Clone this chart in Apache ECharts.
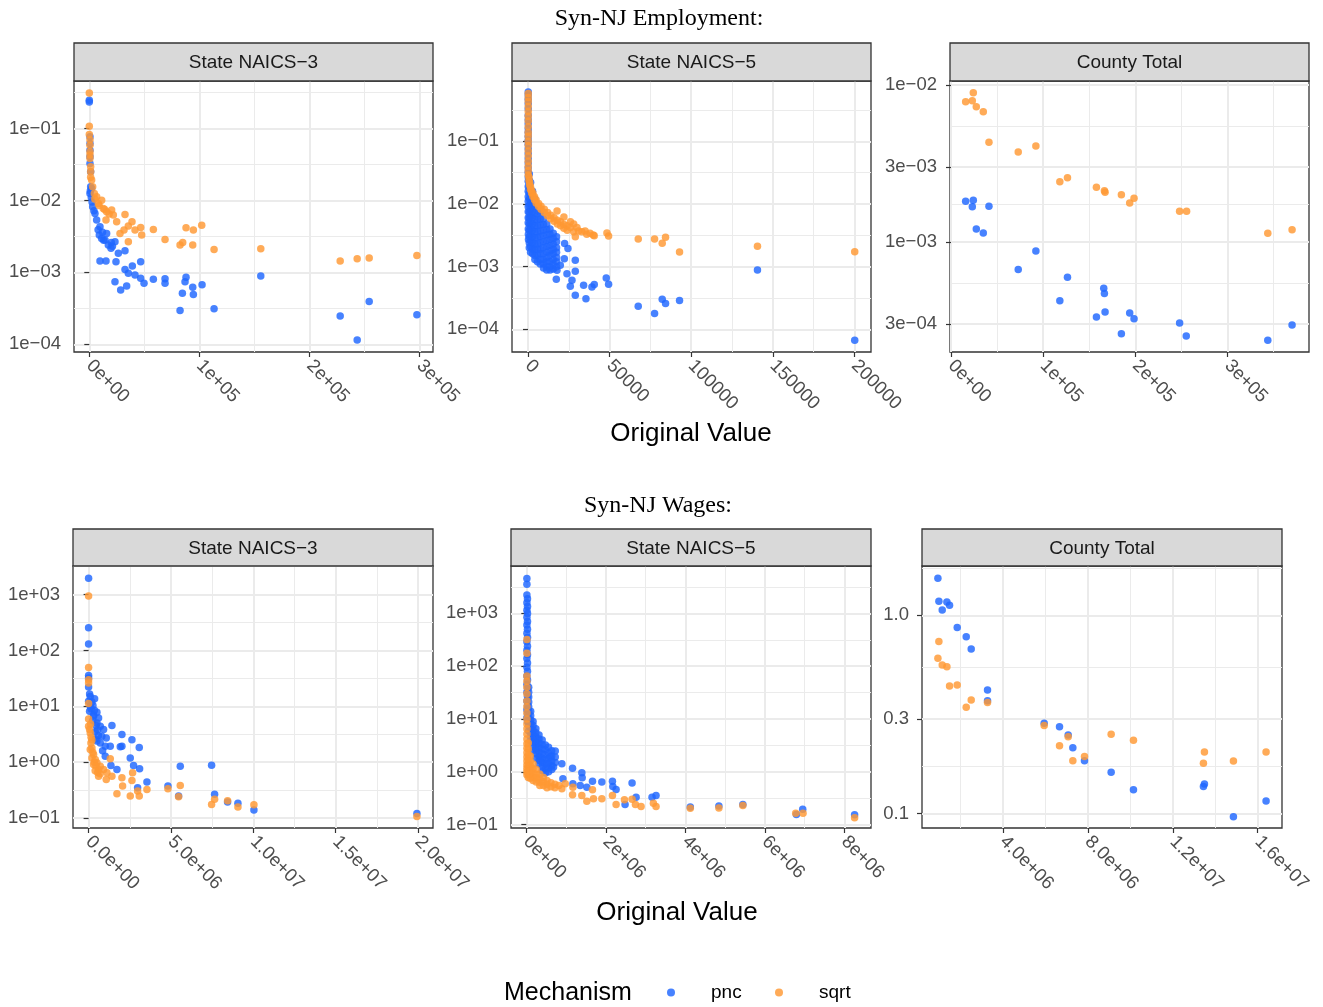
<!DOCTYPE html>
<html><head><meta charset="utf-8">
<script src="https://cdn.jsdelivr.net/npm/echarts@6/dist/echarts.min.js"></script>
<style>html,body{margin:0;padding:0;background:#fff}#c{width:1323px;height:1007px}</style>
</head><body><div id="c"></div><script>
// ---------- DATA ----------
const mechanisms = ['pnc', 'sqrt'];
const panelTitles = ['State NAICS\u22123', 'State NAICS\u22125', 'County Total', 'State NAICS\u22123', 'State NAICS\u22125', 'County Total'];

// Employment, State NAICS-3
const empN3Pnc = [[0,0.2474],[0,0.2344],[606,0.0766],[606,0.0619],[606,0.050],[606,0.0404],[606,0.0327],[1212,0.025],[1212,0.0155],[606,0.0125],[2121,0.0147],[900,0.0135],[1800,0.011],[2500,0.0095],[4200,0.0072],[3030,0.00817],[5152,0.00659],[6667,0.00533],[9697,0.0043],[9091,0.0033],[8000,0.0039],[12000,0.0036],[13000,0.0028],[11212,0.00297],[14242,0.00281],[15758,0.00348],[17273,0.0024],[19697,0.00216],[20000,0.0026],[21000,0.0023],[23333,0.00267],[26364,0.00184],[32424,0.002],[9697,0.00144],[15152,0.00144],[24242,0.00141],[32424,0.0011],[35455,0.00097],[39091,0.00123],[46667,0.00141],[23333,0.00074],[28485,0.000568],[33939,0.000645],[41515,0.000918],[46667,0.000826],[49697,0.000704],[58182,0.0008],[68788,0.000817],[68788,0.000704],[86970,0.000741],[87879,0.000853],[84545,0.000511],[93939,0.000619],[94545,0.000494],[102424,0.000675],[82424,0.000294],[113333,0.000313],[155758,0.00089],[227879,0.000248],[243333,0.000115],[254242,0.000395],[297576,0.000258]];
const empN3Sqrt = [[0,0.313],[0,0.1077],[0,0.0825],[606,0.07],[606,0.0587],[606,0.048],[606,0.0427],[606,0.0383],[1212,0.0294],[1212,0.025],[1212,0.021],[2121,0.0192],[3030,0.0155],[4545,0.0125],[5000,0.0105],[6667,0.01125],[8182,0.00908],[9000,0.0085],[11212,0.0101],[12727,0.00774],[14000,0.0075],[15758,0.00697],[18000,0.0065],[20303,0.00735],[21818,0.00626],[24848,0.00506],[15152,0.00533],[32424,0.0064],[27879,0.00348],[31515,0.00387],[35455,0.0044],[38788,0.00506],[41515,0.00387],[35455,0.00267],[46667,0.00422],[47576,0.0033],[58182,0.00395],[68788,0.00287],[82424,0.0024],[84848,0.00261],[87879,0.00417],[94545,0.00387],[93939,0.0024],[102121,0.00454],[113333,0.00208],[155758,0.00213],[227879,0.00144],[243333,0.00155],[254242,0.00158],[297576,0.00172]];

// Employment, State NAICS-5
const empN5Pnc = [[150,0.61],[150,0.55],[150,0.47],[150,0.4],[150,0.33],[150,0.26],[150,0.22],[150,0.19],[150,0.16],[150,0.14],[150,0.12],[150,0.104],[150,0.09],[150,0.076],[150,0.064],[150,0.053],[150,0.045],[150,0.038],[150,0.032],[150,0.027],[150,0.023],[150,0.019],[150,0.016],[150,0.013],[150,0.011],[150,0.009],[150,0.0075],[150,0.006],[150,0.005],[200,0.004],[250,0.0033],[300,0.0027],
[800,0.03],[800,0.024],[800,0.019],[800,0.015],[800,0.012],[800,0.0095],[800,0.0075],[800,0.006],[800,0.0048],[800,0.0038],[800,0.003],[800,0.0024],[800,0.002],
[1600,0.022],[1600,0.017],[1600,0.013],[1600,0.01],[1600,0.008],[1600,0.0063],[1600,0.005],[1600,0.004],[1600,0.0032],[1600,0.0026],[1600,0.0021],[1600,0.0017],
[2800,0.016],[2800,0.012],[2800,0.0095],[2800,0.0075],[2800,0.006],[2800,0.0048],[2800,0.0038],[2800,0.003],[2800,0.0024],[2800,0.0019],[2800,0.0016],
[4200,0.012],[4200,0.0092],[4200,0.0072],[4200,0.0057],[4200,0.0045],[4200,0.0036],[4200,0.0029],[4200,0.0023],[4200,0.0019],[4200,0.0015],[4200,0.0013],
[5800,0.009],[5800,0.007],[5800,0.0056],[5800,0.0045],[5800,0.0036],[5800,0.0029],[5800,0.0023],[5800,0.0019],[5800,0.0015],[5800,0.0012],
[7500,0.0072],[7500,0.0057],[7500,0.0046],[7500,0.0037],[7500,0.003],[7500,0.0024],[7500,0.0019],[7500,0.0016],[7500,0.0013],[7500,0.0011],
[9500,0.0058],[9500,0.0047],[9500,0.0038],[9500,0.0031],[9500,0.0025],[9500,0.002],[9500,0.0016],[9500,0.0013],[9500,0.0011],[9500,0.00095],
[11500,0.0048],[11500,0.0039],[11500,0.0032],[11500,0.0026],[11500,0.0021],[11500,0.0017],[11500,0.0014],[11500,0.0012],[11500,0.001],[11500,0.00088],
[13500,0.004],[13500,0.0033],[13500,0.0027],[13500,0.0022],[13500,0.0018],[13500,0.0015],[13500,0.0012],[13500,0.001],[13500,0.00088],
[15500,0.0034],[15500,0.0028],[15500,0.0023],[15500,0.0019],[15500,0.0016],[15500,0.0013],[15500,0.0011],[15500,0.00092],
[17500,0.003],[17500,0.0025],[17500,0.002],[17500,0.0017],[17500,0.0014],[17500,0.0012],[17500,0.001],
[22449,0.00233],[24490,0.00194],[28980,0.00126],[17755,0.000873],[19796,0.00105],[22245,0.00134],[23878,0.000773],[28980,0.000843],[26939,0.000605],[17347,0.000628],[25918,0.000485],[34082,0.000504],[39184,0.000474],[40612,0.000517],[28980,0.000349],[35510,0.000308],[47959,0.000659],[49388,0.000523],[67551,0.000233],[77551,0.000178],[82245,0.000301],[84286,0.000257],[92857,0.000287],[140612,0.000885],[200204,0.0000667]];
const empN5Sqrt = [[150,0.58],[150,0.5],[150,0.43],[150,0.36],[150,0.3],[150,0.25],[150,0.21],[150,0.17],[150,0.14],[150,0.12],[150,0.1],[150,0.085],[150,0.07],[150,0.058],[150,0.048],[150,0.04],[150,0.034],[150,0.029],
[600,0.027],[600,0.024],[1000,0.022],[1000,0.02],[1500,0.019],[1500,0.017],[2200,0.0165],[2200,0.015],[3000,0.0148],[3000,0.0132],[4000,0.013],[4000,0.0117],[5000,0.0116],[5000,0.0104],[6500,0.0102],[6500,0.0092],[8000,0.0092],[8000,0.0082],[10000,0.0082],[10000,0.0073],[12000,0.0073],[12000,0.0065],[14000,0.0066],[14000,0.0058],[16000,0.006],[16000,0.0053],[17800,0.0077],[18000,0.0055],[18000,0.0048],[20000,0.0052],[20000,0.0045],[22000,0.0062],[22000,0.0047],[22000,0.0041],[24000,0.0045],[24000,0.0038],[26000,0.0052],[26000,0.0042],[28000,0.0048],[28000,0.0036],[29000,0.003],[30000,0.0042],[31000,0.0037],[33000,0.0036],[35000,0.0037],[36000,0.0033],[38000,0.0034],[40000,0.0032],[40600,0.0031],
[48367,0.00344],[49388,0.00308],[67551,0.00276],[77551,0.00276],[82245,0.00236],[84286,0.00294],[92857,0.00171],[140612,0.00211],[200204,0.00173]];

// Employment, County Total
const empCtPnc = [[15884,0.001818],[24188,0.001845],[23105,0.001672],[41155,0.001689],[27437,0.00121],[35018,0.001141],[92058,0.000876],[72924,0.000666],[126354,0.000595],[118051,0.000422],[165704,0.000506],[166426,0.000468],[157762,0.000332],[167148,0.000357],[193863,0.000352],[198556,0.000323],[184838,0.00026],[248014,0.000304],[255235,0.000251],[343682,0.000236],[370036,0.000295]];
const empCtSqrt = [[15884,0.00783],[24188,0.00894],[23105,0.00794],[27437,0.00727],[35018,0.00676],[41155,0.00431],[72924,0.00374],[92058,0.00408],[118051,0.00242],[126354,0.00256],[157762,0.00223],[166426,0.00212],[167148,0.00207],[184838,0.002],[193863,0.00177],[198556,0.0019],[248014,0.00157],[255596,0.00157],[343682,0.001136],[370036,0.001193]];

// Wages, State NAICS-3
const wageN3Pnc = [[0,1957],[0,254],[0,130],[0,35.8],[0,32],[0,22.1],[61000,16.6],[0,12.3],[364000,13.7],[101000,10],[263000,10.3],[61000,8.15],[506000,7.82],[304000,6.63],[607000,6.19],[506000,5.04],[709000,4.39],[911000,3.83],[1417000,4.52],[1073000,2.72],[405000,2.61],[709000,2.21],[1012000,1.93],[1316000,1.93],[2024000,3.12],[2024000,1.93],[1923000,1.88],[2632000,2.51],[3077000,1.83],[1012000,1.28],[2530000,1.19],[2733000,0.871],[3097000,0.76],[1356000,0.871],[1721000,0.74],[3543000,0.44],[2976000,0.348],[4818000,0.373],[5466000,0.247],[5567000,0.849],[7470000,0.883],[7652000,0.265],[8441000,0.193],[9069000,0.183],[10040000,0.139],[19939000,0.121],
[100000,15],[200000,12],[150000,9],[350000,8.5],[250000,5.5],[450000,4.6],[400000,3.5],[600000,3],[800000,2.9],[500000,2.4],[850000,1.6],[300000,7],[550000,3.8]];
const wageN3Sqrt = [[0,947],[0,49.7],[0,29.9],[0,26.1],[0,11.2],[0,5.94],[0,4.39],[61000,3.83],[101000,3.34],[142000,2.21],[202000,1.8],[101000,1.68],[304000,1.37],[202000,1.19],[405000,1.12],[506000,0.973],[304000,0.908],[607000,0.74],[709000,0.849],[911000,0.74],[607000,0.562],[1113000,0.646],[1316000,1.15],[1073000,0.49],[1417000,0.562],[2024000,0.525],[2065000,0.373],[1721000,0.272],[2672000,0.646],[2632000,0.471],[2530000,0.247],[2976000,0.303],[3077000,0.247],[3543000,0.325],[4818000,0.334],[5567000,0.383],[5466000,0.24],[7470000,0.175],[7652000,0.216],[8441000,0.204],[9069000,0.157],[10040000,0.173],[19939000,0.106],
[150000,2.8],[250000,1.5],[350000,1.0],[450000,0.85],[550000,0.65],[700000,0.62],[400000,0.7],[200000,2.5],[120000,4.8]];

// Wages, State NAICS-5
const wageN5Pnc = [[15000,4600],[15000,3550],[15000,2230],[30000,1900],[15000,1600],[30000,1350],[15000,1150],[30000,1000],[15000,850],[30000,700],[15000,600],[30000,500],[15000,420],[30000,350],[15000,290],[30000,240],[15000,200],[30000,165],[15000,140],[30000,115],[15000,95],[30000,80],[15000,65],[30000,55],[15000,45],[30000,38],[15000,32],[30000,27],[15000,22],[30000,18],[15000,15],[30000,12.5],[15000,10.5],[30000,9],
[60000,40],[60000,32],[60000,26],[60000,21],[60000,17],[60000,14],[60000,11],[60000,9],[60000,7.5],[60000,6],
[110000,14],[110000,11.5],[110000,9.5],[110000,8],[110000,6.5],[110000,5.4],[110000,4.5],[110000,3.8],
[170000,9],[170000,7.5],[170000,6.2],[170000,5.2],[170000,4.3],[170000,3.6],[170000,3],[170000,2.5],
[240000,6.5],[240000,5.5],[240000,4.6],[240000,3.8],[240000,3.2],[240000,2.7],[240000,2.2],[240000,1.8],
[320000,5],[320000,4.2],[320000,3.5],[320000,2.9],[320000,2.4],[320000,2],[320000,1.65],[320000,1.4],
[400000,4],[400000,3.3],[400000,2.7],[400000,2.2],[400000,1.8],[400000,1.5],[400000,1.25],[400000,1.05],
[480000,3.2],[480000,2.6],[480000,2.1],[480000,1.7],[480000,1.4],[480000,1.15],[480000,0.95],
[560000,2.9],[560000,2.3],[560000,1.8],[560000,1.45],[560000,1.2],[560000,1.0],
[640000,2.5],[640000,2.0],[640000,1.6],[640000,1.3],[640000,1.1],
[728000,2.47],[728000,1.9],[728000,1.5],
[603000,1.9],[519000,1.42],[351000,1.64],[686000,1.23],[895000,1.42],[921000,0.736],[1163000,1.17],[1397000,0.957],[1406000,0.769],[1172000,0.592],[1356000,0.55],[1523000,0.512],[1665000,0.665],[1900000,0.637],[2167000,0.665],[2176000,0.527],[2259000,0.463],[2661000,0.61],[2762000,0.33],[2485000,0.24],[3163000,0.33],[3264000,0.356],[4126000,0.216],[4845000,0.226],[5448000,0.24],[6795000,0.155],[6954000,0.195],[8259000,0.153]];
const wageN5Sqrt = [[15000,320],[15000,175],[15000,65],[15000,52],[15000,40],[15000,30],[15000,22],[15000,17],[15000,13],[15000,10],[15000,8],[15000,6.5],[15000,5.2],[15000,4.2],[15000,3.4],[15000,2.8],[15000,2.3],[15000,1.9],[15000,1.6],[15000,1.35],[15000,1.15],[15000,1.0],[15000,0.88],
[50000,3.5],[50000,2.7],[50000,2.1],[50000,1.7],[50000,1.35],[50000,1.1],[50000,0.9],[50000,0.78],
[100000,2.0],[100000,1.6],[100000,1.3],[100000,1.05],[100000,0.88],[100000,0.75],
[170000,1.4],[170000,1.15],[170000,0.95],[170000,0.8],[170000,0.68],
[250000,1.1],[250000,0.9],[250000,0.76],[250000,0.64],
[340000,0.9],[340000,0.75],[340000,0.63],[340000,0.55],
[430000,0.78],[430000,0.65],[430000,0.55],
[520000,0.68],[520000,0.58],[520000,0.5],
[620000,0.62],[620000,0.52],[720000,0.58],[720000,0.5],[820000,0.55],
[979000,0.592],[895000,0.476],[1172000,0.512],[1163000,0.366],[1397000,0.356],[1523000,0.277],[1665000,0.455],[1690000,0.307],[1900000,0.307],[2167000,0.356],[2259000,0.24],[2469000,0.294],[2661000,0.303],[2745000,0.24],[2887000,0.22],[3197000,0.254],[3264000,0.22],[4126000,0.204],[4845000,0.207],[5448000,0.23],[6778000,0.164],[6962000,0.164],[8259000,0.134]];

// Wages, County Total
const wageCtPnc = [[941000,1.537],[988000,1.177],[1365000,1.167],[1490000,1.123],[1145000,1.064],[1851000,0.867],[2275000,0.78],[2510000,0.677],[3278000,0.42],[3278000,0.371],[5945000,0.2854],[6667000,0.2747],[7075000,0.2492],[7294000,0.2153],[7843000,0.185],[9098000,0.162],[10149000,0.132],[13490000,0.141],[13443000,0.137],[14855000,0.0966],[16392000,0.116]];
const wageCtSqrt = [[988000,0.737],[941000,0.607],[1145000,0.562],[1365000,0.551],[1490000,0.44],[1851000,0.445],[2275000,0.344],[2510000,0.374],[3278000,0.364],[5945000,0.278],[6667000,0.22],[7075000,0.2444],[7294000,0.185],[7843000,0.194],[9098000,0.2512],[10149000,0.2344],[13490000,0.2046],[13443000,0.1795],[14855000,0.1843],[16392000,0.2046]];

// Tick values & labels
const xTicks = [[0,1e5,2e5,3e5],[0,50000,100000,150000,200000],[0,1e5,2e5,3e5],[0,5e6,1e7,1.5e7,2e7],[0,2e6,4e6,6e6,8e6],[4e6,8e6,1.2e7,1.6e7]];
const xTickLabels = [['0e+00','1e+05','2e+05','3e+05'],['0','50000','100000','150000','200000'],['0e+00','1e+05','2e+05','3e+05'],['0.0e+00','5.0e+06','1.0e+07','1.5e+07','2.0e+07'],['0e+00','2e+06','4e+06','6e+06','8e+06'],['4.0e+06','8.0e+06','1.2e+07','1.6e+07']];
const xMinorTicks = [[5e4,1.5e5,2.5e5],[25000,75000,125000,175000],[5e4,1.5e5,2.5e5,3.5e5],[2.5e6,7.5e6,1.25e7,1.75e7],[1e6,3e6,5e6,7e6],[2e6,6e6,1e7,1.4e7]];
const yTicks = [[1e-4,1e-3,1e-2,1e-1],[1e-4,1e-3,1e-2,1e-1],[3e-4,1e-3,3e-3,1e-2],[1e-1,1,10,100,1000],[1e-1,1,10,100,1000],[0.1,0.3,1.0]];
const yTickLabels = [['1e\u221204','1e\u221203','1e\u221202','1e\u221201'],['1e\u221204','1e\u221203','1e\u221202','1e\u221201'],['3e\u221204','1e\u221203','3e\u221203','1e\u221202'],['1e\u221201','1e+00','1e+01','1e+02','1e+03'],['1e\u221201','1e+00','1e+01','1e+02','1e+03'],['0.1','0.3','1.0']];
const yMinorTicks = [[3.162e-4,3.162e-3,3.162e-2,0.3162],[3.162e-4,3.162e-3,3.162e-2,0.3162],[5.477e-4,1.732e-3,5.477e-3],[0.3162,3.162,31.62,316.2,3162],[0.3162,3.162,31.62,316.2,3162],[0.1732,0.5477,1.732]];

// ---------- LAYOUT ----------
const SANS = "'Liberation Sans', Arial, Helvetica, sans-serif";
const SERIF = "'Liberation Serif', 'DejaVu Serif', serif";
const grids = [
  {left:74, top:81, width:359, height:271},
  {left:512, top:81, width:359, height:271},
  {left:950, top:81, width:359, height:271},
  {left:73, top:566, width:360, height:262},
  {left:511, top:566, width:360, height:262},
  {left:922, top:566, width:360, height:262}
];
const xRange = [[-13900,312200],[-9800,210180],[-1100,388400],[-947000,20916000],[-385000,8672000],[193000,17142000]];
const yRangeLog = [[-4.107,-0.339],[-4.362,-0.038],[-3.702,-1.9745],[-1.179,3.5125],[-1.065,3.898],[-1.072,0.2485]];
const stripTops = [43,43,43,529,529,529];
const panelData = [[empN3Pnc,empN3Sqrt],[empN5Pnc,empN5Sqrt],[empCtPnc,empCtSqrt],[wageN3Pnc,wageN3Sqrt],[wageN5Pnc,wageN5Sqrt],[wageCtPnc,wageCtSqrt]];
const colors = {pnc:'#1F66FF', sqrt:'#FF9933'};

function fmt(ticks, labels) {
  return function (v) {
    for (let k = 0; k < ticks.length; k++) {
      if (Math.abs(ticks[k] - v) <= Math.abs(ticks[k]) * 1e-6 + 1e-12) return labels[k];
    }
    return '';
  };
}

const gridOpt = [], xAxes = [], yAxes = [], series = [], graphics = [];
grids.forEach((g, i) => {
  gridOpt.push(Object.assign({show:true, borderColor:'#333333', borderWidth:1.3, backgroundColor:'#ffffff'}, g));
  const tickStyle = {show:true, length:5, inside:false, lineStyle:{color:'#333333', width:1.2}};
  xAxes.push({type:'value', gridIndex:i, min:xRange[i][0], max:xRange[i][1], position:'bottom',
    axisLine:{show:false}, axisTick:Object.assign({customValues:xTicks[i]}, tickStyle),
    axisLabel:{customValues:xTicks[i], rotate:-45, margin:11, color:'#4D4D4D', fontSize:18.5, fontFamily:SANS, formatter:fmt(xTicks[i], xTickLabels[i])},
    splitLine:{show:true, lineStyle:{color:'#EBEBEB', width:2}}});
  xAxes.push({type:'value', gridIndex:i, min:xRange[i][0], max:xRange[i][1], position:'bottom',
    axisLine:{show:false}, axisTick:{show:false, customValues:xMinorTicks[i]},
    axisLabel:{show:false, customValues:xMinorTicks[i]},
    splitLine:{show:true, lineStyle:{color:'#EBEBEB', width:1}}});
  const ymin = Math.pow(10, yRangeLog[i][0]), ymax = Math.pow(10, yRangeLog[i][1]);
  yAxes.push({type:'log', logBase:10, gridIndex:i, min:ymin, max:ymax, position:'left',
    axisLine:{show:false}, axisTick:Object.assign({customValues:yTicks[i]}, tickStyle),
    axisLabel:{customValues:yTicks[i], margin:13, color:'#4D4D4D', fontSize:18.5, fontFamily:SANS, formatter:fmt(yTicks[i], yTickLabels[i])},
    splitLine:{show:true, lineStyle:{color:'#EBEBEB', width:2}}, minorSplitLine:{show:false}});
  yAxes.push({type:'log', logBase:10, gridIndex:i, min:ymin, max:ymax, position:'left',
    axisLine:{show:false}, axisTick:{show:false, customValues:yMinorTicks[i]},
    axisLabel:{show:false, customValues:yMinorTicks[i]},
    splitLine:{show:true, lineStyle:{color:'#EBEBEB', width:1}}});
  mechanisms.forEach((m, j) => {
    series.push({type:'scatter', name:m, xAxisIndex:2*i, yAxisIndex:2*i, data:panelData[i][j],
      symbol:'circle', symbolSize:7.5, itemStyle:{color:colors[m], opacity:0.82}, emphasis:{disabled:true}, silent:true, z:2+j});
  });
  // strip
  graphics.push({type:'rect', shape:{x:g.left, y:stripTops[i], width:g.width, height:g.top - stripTops[i]},
    style:{fill:'#D9D9D9', stroke:'#333333', lineWidth:1.3}, z:10});
  graphics.push({type:'text', x:g.left + g.width/2, y:(stripTops[i] + g.top)/2 + 1,
    style:{text:panelTitles[i], textAlign:'center', textVerticalAlign:'middle', font:'19px ' + SANS, fill:'#1A1A1A'}, z:11});
});

graphics.push({type:'text', x:659, y:19, style:{text:'Syn-NJ Employment:', textAlign:'center', textVerticalAlign:'middle', font:'24px ' + SERIF, fill:'#000'}});
graphics.push({type:'text', x:658, y:506, style:{text:'Syn-NJ Wages:', textAlign:'center', textVerticalAlign:'middle', font:'24px ' + SERIF, fill:'#000'}});
graphics.push({type:'text', x:691, y:434, style:{text:'Original Value', textAlign:'center', textVerticalAlign:'middle', font:'26px ' + SANS, fill:'#000'}});
graphics.push({type:'text', x:677, y:913, style:{text:'Original Value', textAlign:'center', textVerticalAlign:'middle', font:'26px ' + SANS, fill:'#000'}});
graphics.push({type:'text', x:504, y:993, style:{text:'Mechanism', textAlign:'left', textVerticalAlign:'middle', font:'25px ' + SANS, fill:'#000'}});

const legendBase = {orient:'horizontal', top:983, icon:'circle', itemWidth:70, itemHeight:8, selectedMode:false,
  textStyle:{fontSize:19, color:'#000', fontFamily:SANS}, padding:0};
const option = {
  animation:false,
  backgroundColor:'#ffffff',
  grid:gridOpt, xAxis:xAxes, yAxis:yAxes, series:series,
  legend:[Object.assign({data:['pnc'], left:667}, legendBase), Object.assign({data:['sqrt'], left:775}, legendBase)],
  graphic:graphics
};
const chart = echarts.init(document.getElementById('c'), null, {renderer:'canvas'});
chart.setOption(option);
</script></body></html>
